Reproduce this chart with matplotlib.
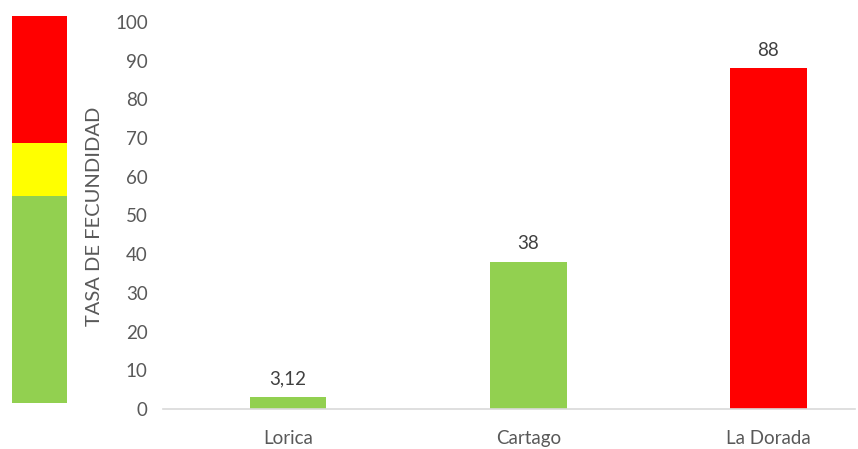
import matplotlib
matplotlib.use("Agg")
import matplotlib.pyplot as plt

# data
cities = ["Lorica", "Cartago", "La Dorada"]
rates = [3.12, 38, 88]
rate_labels = ["3,12", "38", "88"]
bar_colors = ["#92D050", "#92D050", "#FF0000"]

# traffic-light scale on the left (fractions of the strip, bottom to top)
scale_bounds = [0.0, 0.535, 0.672, 1.0]
scale_colors = ["#92D050", "#FFFF00", "#FF0000"]

plt.rcParams["font.family"] = ["Lato", "DejaVu Sans"]
TXT = "#595959"

fig = plt.figure(figsize=(8.58, 4.49), dpi=100)

# colour strip
sax = fig.add_axes([12 / 858, 46 / 449, 55 / 858, 387 / 449])
for lo, hi, c in zip(scale_bounds[:-1], scale_bounds[1:], scale_colors):
    sax.bar(0, hi - lo, bottom=lo, width=1, color=c, linewidth=0)
sax.set_xlim(-0.5, 0.5)
sax.set_ylim(0, 1)
sax.axis("off")

# main chart
ax = fig.add_axes([163 / 858, 40 / 449, 692 / 858, 387 / 449])
x = range(len(cities))
ax.bar(x, rates, width=0.32, color=bar_colors, linewidth=0)
for xi, v, lab in zip(x, rates, rate_labels):
    ax.text(xi, v + 2.5, lab, ha="center", va="bottom", fontsize=13.5, color="#404040")

ax.set_xlim(-0.52, 2.36)
ax.set_ylim(0, 100)
ax.set_yticks(range(0, 101, 10))
ax.set_xticks(list(x))
ax.set_xticklabels(cities)
ax.tick_params(axis="y", length=0, pad=11, labelsize=13.5, labelcolor=TXT)
ax.tick_params(axis="x", length=0, pad=15, labelsize=13.5, labelcolor=TXT)
for s in ["top", "right", "left"]:
    ax.spines[s].set_visible(False)
ax.spines["bottom"].set_color("#D9D9D9")
ax.spines["bottom"].set_linewidth(1.2)

fig.text(95 / 858, 0.519, "TASA DE FECUNDIDAD", rotation=90, ha="center", va="center",
         fontsize=14.5, color=TXT)

fig.savefig("out.png", dpi=100)
